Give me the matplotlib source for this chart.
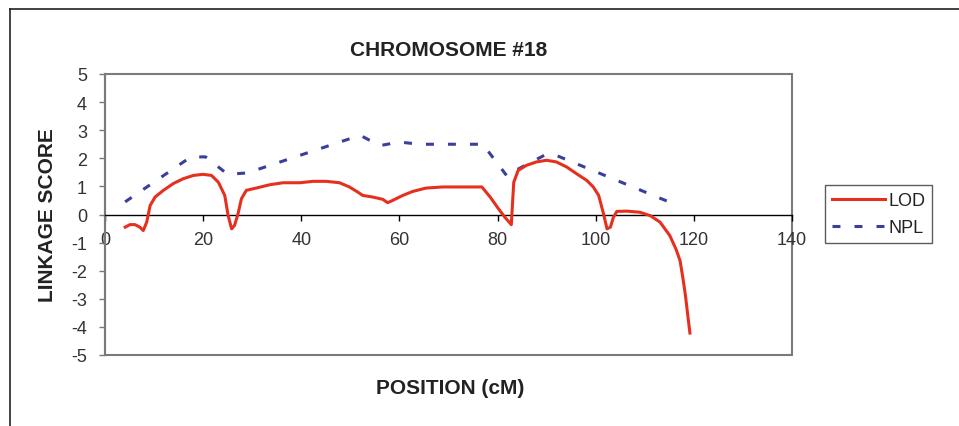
import matplotlib.pyplot as plt
from matplotlib.lines import Line2D
from matplotlib.patches import Rectangle

# ---- data ----
LOD_POS = [4.1, 5.1, 6.1, 7.1, 7.8, 8.5, 9.2, 10.2, 11.9, 13.9, 15.9, 18.0, 20.0,
           21.7, 23.1, 24.4, 25.1, 25.8, 26.4, 27.1, 27.8, 28.8, 30.8, 33.6, 36.3,
           39.7, 42.4, 45.1, 47.8, 49.8, 51.5, 52.5, 54.6, 56.6, 57.6, 58.6, 60.7,
           62.7, 65.4, 68.8, 76.8, 78.5, 80.2, 81.5, 82.8, 83.1, 83.3, 84.2, 85.9,
           87.9, 90.0, 92.0, 94.1, 96.1, 98.2, 99.5, 100.6, 101.6, 102.3, 103.0,
           103.6, 104.3, 106.3, 109.0, 111.1, 113.1, 115.1, 116.4, 117.2, 117.8,
           118.3, 118.7, 119.2]
LOD_SCORE = [-0.45, -0.36, -0.36, -0.45, -0.57, -0.27, 0.32, 0.62, 0.86, 1.10, 1.27,
             1.39, 1.43, 1.39, 1.15, 0.68, -0.04, -0.51, -0.39, 0.02, 0.56, 0.86,
             0.94, 1.06, 1.13, 1.13, 1.18, 1.18, 1.13, 0.98, 0.80, 0.68, 0.62, 0.54,
             0.42, 0.50, 0.68, 0.82, 0.94, 0.98, 0.98, 0.62, 0.20, -0.10, -0.36,
             0.56, 1.15, 1.57, 1.75, 1.87, 1.93, 1.87, 1.69, 1.45, 1.21, 0.98, 0.68,
             0.02, -0.51, -0.45, -0.10, 0.11, 0.12, 0.08, -0.04, -0.27, -0.75, -1.25,
             -1.65, -2.3, -2.9, -3.5, -4.22]

NPL_POS = [4.1, 17.5, 20.5, 25.0, 29.0, 52.0, 56.0, 60.0, 64.0, 77.0, 82.0, 84.0,
           90.0, 92.0, 117.0]
NPL_SCORE = [0.45, 2.05, 2.05, 1.43, 1.48, 2.82, 2.45, 2.58, 2.5, 2.5, 1.35, 1.6,
             2.15, 2.1, 0.3]

X_TICKS = list(range(0, 141, 20))
Y_TICKS = list(range(-5, 6))

W, H = 959, 427
DPI = 100
RED = '#e5301f'
BLUE = '#3a3f9e'
FRAME_GRAY = '#7a7a7a'


def main():
    plt.rcParams['font.family'] = ['Liberation Sans', 'DejaVu Sans']
    plt.rcParams['axes.unicode_minus'] = False

    fig = plt.figure(figsize=(W / DPI, H / DPI), dpi=DPI)
    ax = fig.add_axes([105 / W, 1 - 356 / H, (792 - 105) / W, (356 - 75) / H])

    ax.plot(LOD_POS, LOD_SCORE, color=RED, linewidth=2.2, label='LOD',
            solid_joinstyle='round', zorder=3)
    npl, = ax.plot(NPL_POS, NPL_SCORE, color=BLUE, linewidth=2.2, label='NPL',
                   zorder=2)
    npl.set_dashes((2.6, 4.6))

    ax.set_xlim(0, 140)
    ax.set_ylim(-5, 5)
    ax.set_xticks(X_TICKS)
    ax.set_yticks(Y_TICKS)

    # Excel-style: category axis crosses at 0, plot area has its own grey box
    ax.spines['bottom'].set_position(('data', 0))
    ax.spines['bottom'].set_color('black')
    ax.spines['bottom'].set_linewidth(1.0)
    for side in ('top', 'right'):
        ax.spines[side].set_visible(False)
    ax.spines['left'].set_color(FRAME_GRAY)
    ax.spines['left'].set_linewidth(1.5)
    ax.add_patch(Rectangle((0, 0), 1, 1, transform=ax.transAxes, fill=False,
                           edgecolor=FRAME_GRAY, linewidth=1.5, clip_on=False,
                           zorder=1))

    ax.tick_params(axis='x', direction='out', length=4, width=1, color='black',
                   pad=8, labelsize=13, labelcolor='#333333')
    ax.tick_params(axis='y', direction='out', length=4, width=1, color=FRAME_GRAY,
                   pad=9, labelsize=13, labelcolor='#333333')

    fig.text(449 / W, 1 - 50 / H, 'CHROMOSOME #18', ha='center', va='center',
             fontsize=15, fontweight='bold', color='#222222')
    fig.text(450 / W, 1 - 389 / H, 'POSITION (cM)', ha='center', va='center',
             fontsize=15, fontweight='bold', color='#222222')
    fig.text(48 / W, 1 - 215 / H, 'LINKAGE SCORE', ha='center', va='center',
             rotation=90, fontsize=15, fontweight='bold', color='#222222')

    leg = fig.legend(loc='upper left', bbox_to_anchor=(825 / W, 1 - 186 / H),
                     fontsize=13, frameon=True, fancybox=False, handlelength=2.9,
                     handletextpad=0.2, borderpad=0.4, labelspacing=0.55,
                     borderaxespad=0)
    leg.get_frame().set_edgecolor('#333333')
    leg.get_frame().set_linewidth(1.0)
    for txt in leg.get_texts():
        txt.set_color('#222222')

    # outer picture frame (left and top edges visible)
    fig.add_artist(Line2D([9.5 / W, 9.5 / W], [0, 1 - 10 / H], color='#222222',
                          linewidth=1.2))
    fig.add_artist(Line2D([9.5 / W, 1], [1 - 10 / H, 1 - 10 / H], color='#222222',
                          linewidth=1.2))

    fig.savefig('out.png', dpi=DPI)
    plt.close(fig)


if __name__ == '__main__':
    main()
